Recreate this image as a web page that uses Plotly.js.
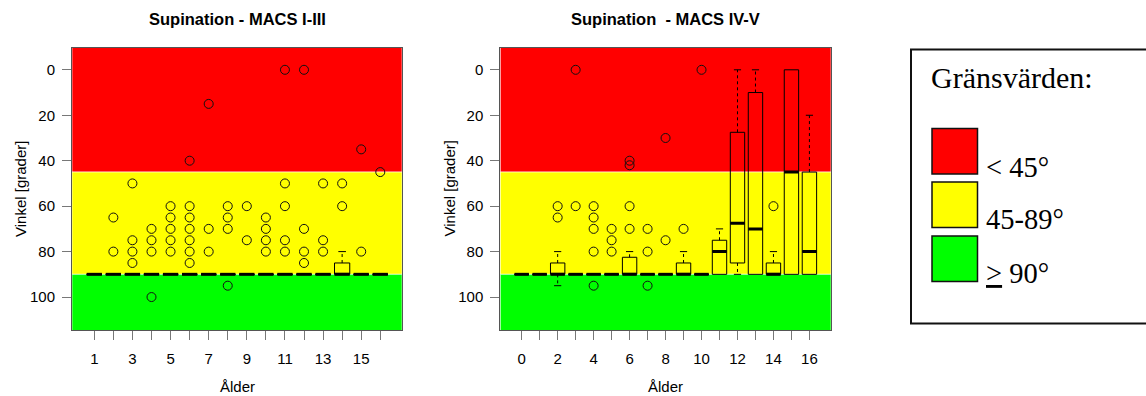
<!DOCTYPE html>
<html><head><meta charset="utf-8">
<script src="https://cdn.plot.ly/plotly-3.0.1.min.js"></script>
<style>html,body{margin:0;padding:0;background:#fff}#chart{width:1146px;height:396px}</style>
</head><body><div id="chart"></div>
<script>
// ---------- Left panel: Supination - MACS I-III ----------
const agesL = [1,2,3,4,5,6,7,8,9,10,11,12,13,14,15,16];
const q1L   = [90,90,90,90,90,90,90,90,90,90,90,90,90,85,90,90];
const medL  = [90,90,90,90,90,90,90,90,90,90,90,90,90,90,90,90];
const q3L   = [90,90,90,90,90,90,90,90,90,90,90,90,90,90,90,90];
const wloL  = [90,90,90,90,90,90,90,90,90,90,90,90,90,80,90,90];
const whiL  = [90,90,90,90,90,90,90,90,90,90,90,90,90,90,90,90];
const outAgeL = [2,2, 3,3,3,3, 4,4,4,4, 5,5,5,5,5, 6,6,6,6,6,6,6, 7,7,7, 8,8,8,8, 9,9, 10,10,10,10, 11,11,11,11,11, 12,12,12,12, 13,13,13, 14,14, 15,15, 16];
const outValL = [65,80, 50,75,80,85, 70,75,80,100, 60,65,70,75,80, 40,60,65,70,75,80,85, 15,70,80, 60,65,70,95, 60,75, 65,70,75,80, 0,50,60,75,80, 0,70,80,85, 50,75,80, 50,60, 35,80, 45];
const tickTextL = ['1','','3','','5','','7','','9','','11','','13','','15',''];

// ---------- Right panel: Supination - MACS IV-V ----------
const agesR = [0,1,2,3,4,5,6,7,8,9,10,11,12,13,14,15,16];
const q1R   = [90,90,85,90,90,90,82.5,90,90,85,90,75,27.5,10,85,0,45];
const medR  = [90,90,90,90,90,90,90,90,90,90,90,80,67.5,70,90,45,80];
const q3R   = [90,90,90,90,90,90,90,90,90,90,90,90,85,90,90,90,90];
const wloR  = [90,90,80,90,90,90,80,90,90,80,90,70,0,0,80,0,20];
const whiR  = [90,90,95,90,90,90,90,90,90,90,90,90,90,90,90,90,90];
const outAgeR = [2,2, 3,3, 4,4,4,4,4, 5,5,5, 6,6,6,6, 7,7,7, 8,8, 9, 10, 14];
const outValR = [60,65, 0,60, 60,65,70,80,95, 70,75,80, 40,42,60,70, 70,80,95, 30,75, 70, 0, 60];
const tickTextR = ['0','','2','','4','','6','','8','','10','','12','','14','','16'];

const yTicks = [0,20,40,60,80,100];
const titles = ['Supination - MACS I-III', 'Supination  - MACS IV-V'];
const xTitle = 'Ålder';
const yTitle = 'Vinkel [grader]';

// Threshold bands
const bandLo = [-30, 45, 90];
const bandHi = [45, 90, 130];
const bandColors = ['#FF0000', '#FFFF00', '#00FF00'];
const legendTitle = 'Gränsvärden:';
const legendLabels = ['&lt; 45°', '45-89°', '<u>&gt;</u> 90°'];

// ---------- helpers ----------
const W = 1146, H = 396;
const px = x => x / W;
const py = y => 1 - y / H;
const BOXW = 0.8;

function panelTraces(xa, ya, ages, q1, med, q3, wlo, whi, oa, ov) {
  const tr = [];
  tr.push({
    type: 'box', x: ages, q1: q1, median: med, q3: q3,
    lowerfence: q1, upperfence: q3, width: BOXW, whiskerwidth: 0,
    fillcolor: 'rgba(0,0,0,0)', line: {color: '#000', width: 1},
    boxpoints: false, hoverinfo: 'skip', showlegend: false, xaxis: xa, yaxis: ya
  });
  // thick medians
  const mx = [], my = [];
  ages.forEach((a, i) => { mx.push(a - BOXW/2, a + BOXW/2, null); my.push(med[i], med[i], null); });
  tr.push({type: 'scatter', mode: 'lines', x: mx, y: my, line: {color: '#000', width: 3},
    hoverinfo: 'skip', showlegend: false, xaxis: xa, yaxis: ya});
  // whiskers (dashed) and staples
  const wx = [], wy = [], sx = [], sy = [];
  ages.forEach((a, i) => {
    if (wlo[i] < q1[i]) { wx.push(a, a, null); wy.push(q1[i], wlo[i], null);
      sx.push(a - BOXW/4, a + BOXW/4, null); sy.push(wlo[i], wlo[i], null); }
    if (whi[i] > q3[i]) { wx.push(a, a, null); wy.push(q3[i], whi[i], null);
      sx.push(a - BOXW/4, a + BOXW/4, null); sy.push(whi[i], whi[i], null); }
  });
  tr.push({type: 'scatter', mode: 'lines', x: wx, y: wy, line: {color: '#000', width: 1, dash: '3px,3px'},
    hoverinfo: 'skip', showlegend: false, xaxis: xa, yaxis: ya});
  tr.push({type: 'scatter', mode: 'lines', x: sx, y: sy, line: {color: '#000', width: 1},
    hoverinfo: 'skip', showlegend: false, xaxis: xa, yaxis: ya});
  // outliers
  tr.push({type: 'scatter', mode: 'markers', x: oa, y: ov,
    marker: {symbol: 'circle-open', size: 9, color: '#111', line: {width: 1, color: '#111'}},
    hoverinfo: 'skip', showlegend: false, xaxis: xa, yaxis: ya});
  return tr;
}

const data = [].concat(
  panelTraces('x', 'y', agesL, q1L, medL, q3L, wloL, whiL, outAgeL, outValL),
  panelTraces('x2', 'y2', agesR, q1R, medR, q3R, wloR, whiR, outAgeR, outValR)
);

const shapes = [];
[['x', 'y'], ['x2', 'y2']].forEach(([xa, ya]) => {
  bandLo.forEach((lo, i) => shapes.push({
    type: 'rect', xref: xa + ' domain', yref: ya, x0: 0, x1: 1, y0: lo, y1: bandHi[i],
    fillcolor: bandColors[i], line: {color: 'rgba(255,255,255,0.6)', width: 1}, layer: 'below'
  }));
});
// Legend box
shapes.push({type: 'rect', xref: 'paper', yref: 'paper', x0: px(911), x1: px(1150), y0: py(49.5), y1: py(323.5),
  line: {color: '#111', width: 2}, fillcolor: 'rgba(0,0,0,0)'});
const sqTop = [128.5, 182, 236];
bandColors.forEach((c, i) => shapes.push({
  type: 'rect', xref: 'paper', yref: 'paper', x0: px(932), x1: px(977.5), y0: py(sqTop[i]), y1: py(sqTop[i] + 45.5),
  fillcolor: c, line: {color: '#111', width: 1.5}
}));

const annFont = {family: 'Liberation Sans, Arial, sans-serif', size: 15, color: '#000'};
const annotations = [
  {text: '<b>' + titles[0] + '</b>', x: px(237), y: py(19), xref: 'paper', yref: 'paper', showarrow: false, xanchor: 'center', yanchor: 'middle', font: Object.assign({}, annFont, {size: 16.5})},
  {text: '<b>' + titles[1] + '</b>', x: px(665.5), y: py(19), xref: 'paper', yref: 'paper', showarrow: false, xanchor: 'center', yanchor: 'middle', font: Object.assign({}, annFont, {size: 16.5})},
  {text: xTitle, x: px(237), y: py(386), xref: 'paper', yref: 'paper', showarrow: false, xanchor: 'center', yanchor: 'middle', font: annFont},
  {text: xTitle, x: px(665.5), y: py(386), xref: 'paper', yref: 'paper', showarrow: false, xanchor: 'center', yanchor: 'middle', font: annFont},
  {text: yTitle, x: px(20), y: py(189), xref: 'paper', yref: 'paper', showarrow: false, textangle: -90, xanchor: 'center', yanchor: 'middle', font: annFont},
  {text: yTitle, x: px(448.5), y: py(189), xref: 'paper', yref: 'paper', showarrow: false, textangle: -90, xanchor: 'center', yanchor: 'middle', font: annFont},
  {text: legendTitle, x: px(929), y: py(77.5), xref: 'paper', yref: 'paper', showarrow: false, xanchor: 'left', yanchor: 'middle',
    font: {family: 'Liberation Serif, Times New Roman, serif', size: 30, color: '#000'}}
];
const labY = [167, 219.5, 273.5];
legendLabels.forEach((t, i) => annotations.push({
  text: t, x: px(984), y: py(labY[i]), xref: 'paper', yref: 'paper', showarrow: false, xanchor: 'left', yanchor: 'middle',
  font: {family: 'Liberation Serif, Times New Roman, serif', size: 28.5, color: '#000'}
}));

const axCommon = {
  showgrid: false, zeroline: false, showline: true, mirror: true, linecolor: '#555', linewidth: 1,
  ticks: 'outside', ticklen: 9, tickwidth: 1, tickcolor: '#777', fixedrange: true,
  tickfont: {family: 'Liberation Sans, Arial, sans-serif', size: 15, color: '#000'}
};
const layout = {
  width: W, height: H, margin: {l: 0, r: 0, t: 0, b: 0},
  paper_bgcolor: '#fff', plot_bgcolor: '#fff', showlegend: false,
  font: annFont,
  xaxis: Object.assign({}, axCommon, {domain: [px(72), px(402)], range: [-0.17, 17.14], anchor: 'y',
    tickmode: 'array', tickvals: agesL, ticktext: tickTextL, ticklabelstandoff: 6}),
  yaxis: Object.assign({}, axCommon, {domain: [py(330), py(48)], range: [114.5, -9.6], anchor: 'x',
    tickmode: 'array', tickvals: yTicks, ticklabelstandoff: 4}),
  xaxis2: Object.assign({}, axCommon, {domain: [px(500.3), px(831)], range: [-1.19, 17.2], anchor: 'y2',
    tickmode: 'array', tickvals: agesR, ticktext: tickTextR, ticklabelstandoff: 6}),
  yaxis2: Object.assign({}, axCommon, {domain: [py(330), py(48)], range: [114.5, -9.6], anchor: 'x2',
    tickmode: 'array', tickvals: yTicks, ticklabelstandoff: 4}),
  shapes: shapes, annotations: annotations
};
Plotly.newPlot('chart', data, layout, {displayModeBar: false, staticPlot: true});
</script></body></html>
